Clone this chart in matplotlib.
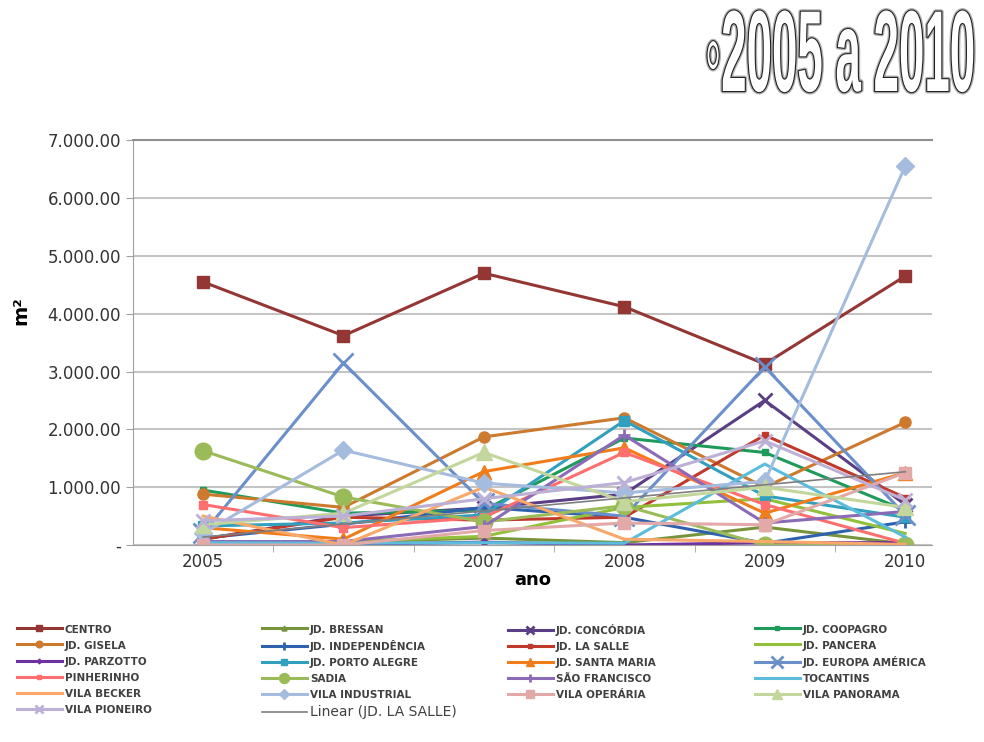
import matplotlib
matplotlib.use("Agg")
import matplotlib.pyplot as plt
import matplotlib.patheffects as pe
from matplotlib.transforms import Affine2D
from matplotlib.ticker import FuncFormatter, FixedLocator
import numpy as np

# anos
anos = [2005, 2006, 2007, 2008, 2009, 2010]

# área (m²) por bairro
centro = [4550, 3620, 4700, 4120, 3130, 4650]
jd_bressan = [60, 50, 120, 40, 310, 20]
jd_concordia = [100, 500, 640, 880, 2500, 700]
jd_coopagro = [950, 550, 600, 1850, 1600, 600]
jd_gisela = [880, 650, 1870, 2200, 1000, 2120]
jd_independencia = [120, 360, 650, 480, 30, 400]
jd_la_salle = [100, 480, 430, 480, 1900, 820]
jd_pancera = [50, 60, 150, 650, 800, 200]
jd_parzotto = [20, 10, 50, 0, 40, 40]
jd_porto_alegre = [330, 380, 520, 2150, 850, 480]
jd_santa_maria = [300, 100, 1270, 1680, 550, 1250]
jd_europa_america = [200, 3150, 720, 500, 3080, 520]
pinherinho = [700, 300, 480, 1600, 700, 30]
sadia = [1630, 830, 400, 680, 0, 0]
sao_francisco = [60, 60, 320, 1900, 380, 580]
tocantins = [40, 30, 40, 30, 1400, 140]
vila_becker = [500, 0, 1000, 100, 60, 10]
vila_industrial = [200, 1640, 1070, 900, 1100, 6550]
vila_operaria = [0, 0, 250, 380, 350, 1250]
vila_panorama = [350, 550, 1600, 750, 1000, 650]
vila_pioneiro = [420, 500, 800, 1080, 1800, 780]

series = [
    ("CENTRO", centro, "#943634", "s", 8),
    ("JD. BRESSAN", jd_bressan, "#77933C", "^", 6),
    ("JD. CONCÓRDIA", jd_concordia, "#5B3F86", "x", 10),
    ("JD. COOPAGRO", jd_coopagro, "#1E9B5A", "s", 5),
    ("JD. GISELA", jd_gisela, "#CD7A2E", "o", 8),
    ("JD. INDEPENDÊNCIA", jd_independencia, "#2E62AE", "+", 9),
    ("JD. LA SALLE", jd_la_salle, "#C0392B", "s", 4),
    ("JD. PANCERA", jd_pancera, "#92C03A", None, 0),
    ("JD. PARZOTTO", jd_parzotto, "#7030A0", "D", 4),
    ("JD. PORTO ALEGRE", jd_porto_alegre, "#31A0BE", "s", 7),
    ("JD. SANTA MARIA", jd_santa_maria, "#F07D1A", "^", 10),
    ("JD. EUROPA AMÉRICA", jd_europa_america, "#6A8FCB", "x", 14),
    ("PINHERINHO", pinherinho, "#FF6F6F", "s", 6),
    ("SADIA", sadia, "#9BBB59", "o", 12),
    ("SÃO FRANCISCO", sao_francisco, "#8B6BB8", "+", 9),
    ("TOCANTINS", tocantins, "#5BBCDC", None, 0),
    ("VILA BECKER", vila_becker, "#F9A86A", None, 0),
    ("VILA INDUSTRIAL", vila_industrial, "#A5BCDF", "D", 9),
    ("VILA OPERÁRIA", vila_operaria, "#E3A9A8", "s", 9),
    ("VILA PANORAMA", vila_panorama, "#C3D69B", "^", 11),
    ("VILA PIONEIRO", vila_pioneiro, "#BDB0D6", "x", 10),
]


class Condensado(pe.AbstractPathEffect):
    """Comprime o texto na horizontal (estilo WordArt) e desenha o contorno."""

    def __init__(self, sx, x0):
        super().__init__()
        self.sx = sx
        self.x0 = x0

    def draw_path(self, renderer, gc, tpath, affine, rgbFace=None):
        t = affine + Affine2D().translate(-self.x0, 0).scale(self.sx, 1).translate(self.x0, 0)
        gc0 = renderer.new_gc()
        gc0.copy_properties(gc)
        gc0.set_foreground("#b0b0b0")
        gc0.set_linewidth(3.5)
        renderer.draw_path(gc0, tpath, t, None)
        gc0.set_foreground("#222222")
        gc0.set_linewidth(1.6)
        renderer.draw_path(gc0, tpath, t, None)
        gc0.restore()
        renderer.draw_path(gc, tpath, t, rgbFace)


fig = plt.figure(figsize=(9.84, 7.42), dpi=100)
ax = fig.add_axes([0.135, 0.2655, 0.812, 0.5455])

handles = []
for nome, vals, cor, mk, ms in series:
    h, = ax.plot(anos, vals, color=cor, lw=2.2, marker=mk, ms=ms,
                 mew=2 if mk in ("x", "+") else 1, mec=cor, mfc=cor, label=nome)
    handles.append(h)

# linha de tendência linear (JD. LA SALLE)
coef = np.polyfit(anos, jd_la_salle, 1)
xs = np.array([2005, 2010])
h, = ax.plot(xs, np.polyval(coef, xs), color="#7F7F7F", lw=1.2,
             label="Linear (JD. LA SALLE)")
handles.append(h)

ax.set_xlim(2004.5, 2010.19)
ax.set_ylim(0, 7000)
ax.set_yticks(range(0, 7001, 1000))


def fmt(v, pos):
    if v == 0:
        return "-"
    s = f"{v:,.2f}"
    return s.replace(",", ".")


ax.yaxis.set_major_formatter(FuncFormatter(fmt))
ax.set_xticks(anos)
ax.xaxis.set_minor_locator(FixedLocator([2005.5, 2006.5, 2007.5, 2008.5, 2009.5]))
ax.tick_params(axis="x", which="major", length=0, labelsize=12, colors="#333333", pad=6)
ax.tick_params(axis="x", which="minor", length=5, color="#a0a0a0")
ax.tick_params(axis="y", length=5, color="#a0a0a0", labelsize=12, labelcolor="#333333")
ax.grid(axis="y", color="#c4c4c4", lw=1.5)
ax.set_axisbelow(True)
ax.spines["right"].set_visible(False)
ax.spines["top"].set_color("#909090")
ax.spines["top"].set_linewidth(1.5)
ax.spines["left"].set_color("#a0a0a0")
ax.spines["bottom"].set_color("#a0a0a0")
ax.set_xlabel("ano", fontsize=13, fontweight="bold", labelpad=0)
ax.set_ylabel("m²", fontsize=14, fontweight="bold", labelpad=-2)
ax.yaxis.set_label_coords(-0.128, 0.58)

# legenda: 4 colunas, itens lidos por linha
pos_col = [17, 262, 508, 755]
for c, xpix in enumerate(pos_col):
    hs = handles[c::4]
    leg = fig.legend(hs, [x.get_label() for x in hs], loc="upper left",
                     bbox_to_anchor=(xpix / 984, 1 - 624 / 742),
                     bbox_transform=fig.transFigure, frameon=False, fontsize=7.5,
                     handlelength=4.3, handleheight=1.2, labelspacing=0.5,
                     handletextpad=0.3, borderpad=0, borderaxespad=0,
                     markerscale=0.6)
    for t in leg.get_texts():
        t.set_color("#404040")
        if t.get_text().startswith("Linear"):
            t.set_fontsize(10)
        else:
            t.set_fontweight("bold")

# título (estilo WordArt, comprimido na horizontal)
x_dir = 975
titulo = fig.text(x_dir / 984, 1 - 61 / 742, "◦2005 a 2010", ha="right", va="center",
                  fontsize=83, family=["Liberation Sans", "DejaVu Sans"],
                  fontweight="bold", color="white")
r = fig.canvas.get_renderer()
larg = titulo.get_window_extent(r).width
titulo.set_path_effects([Condensado(270 / larg, x_dir)])

fig.savefig("out.png", dpi=100)
